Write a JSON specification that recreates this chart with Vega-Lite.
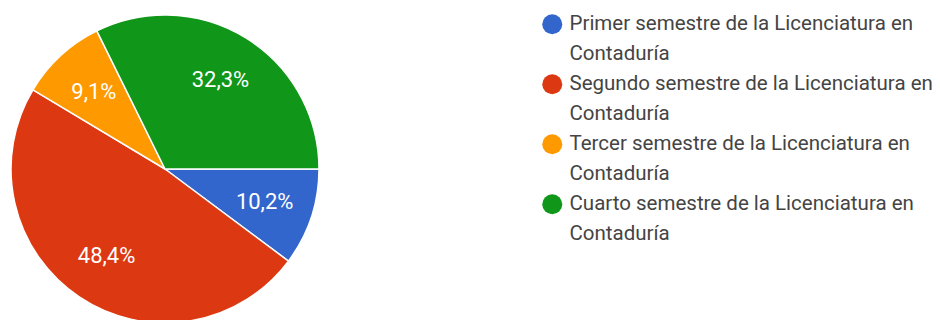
{
  "$schema": "https://vega.github.io/schema/vega-lite/v6.json",
  "width": 330,
  "height": 338,
  "padding": 0,
  "autosize": {"type": "pad"},
  "background": "white",
  "data": {"values": [
    {"semestre": "Primer semestre de la Licenciatura en Contaduría", "pct": 10.2, "etiqueta": "10,2%", "orden": 1},
    {"semestre": "Segundo semestre de la Licenciatura en Contaduría", "pct": 48.4, "etiqueta": "48,4%", "orden": 2},
    {"semestre": "Tercer semestre de la Licenciatura en Contaduría", "pct": 9.1, "etiqueta": "9,1%", "orden": 3},
    {"semestre": "Cuarto semestre de la Licenciatura en Contaduría", "pct": 32.3, "etiqueta": "32,3%", "orden": 4}
  ]},
  "encoding": {
    "theta": {"field": "pct", "type": "quantitative", "stack": true, "scale": {"range": [1.5708, 7.854]}},
    "order": {"field": "orden", "type": "quantitative"},
    "color": {
      "field": "semestre", "type": "nominal",
      "scale": {
        "domain": ["Primer semestre de la Licenciatura en Contaduría", "Segundo semestre de la Licenciatura en Contaduría", "Tercer semestre de la Licenciatura en Contaduría", "Cuarto semestre de la Licenciatura en Contaduría"],
        "range": ["#3366cc", "#dc3912", "#ff9900", "#109618"]
      },
      "legend": {
        "title": null,
        "orient": "none",
        "legendX": 542,
        "legendY": 14,
        "symbolType": "circle",
        "symbolSize": 400,
        "symbolStrokeWidth": 0,
        "labelFont": "Roboto",
        "labelFontSize": 20.5,
        "labelColor": "#444444",
        "labelLimit": 420,
        "labelOffset": 7,
        "rowPadding": 9,
        "labelExpr": "[replace(datum.label, ' Contaduría', ''), 'Contaduría']"
      }
    }
  },
  "layer": [
    {"mark": {"type": "arc", "radius": 154, "stroke": "white", "strokeWidth": 1.5}},
    {"mark": {"type": "text", "radius": 105, "fill": "white", "font": "Roboto", "fontSize": 22},
     "encoding": {"text": {"field": "etiqueta"}, "color": {"value": "white"}}}
  ],
  "config": {"view": {"stroke": null}, "style": {"guide-label": {"lineHeight": 30}}}
}
